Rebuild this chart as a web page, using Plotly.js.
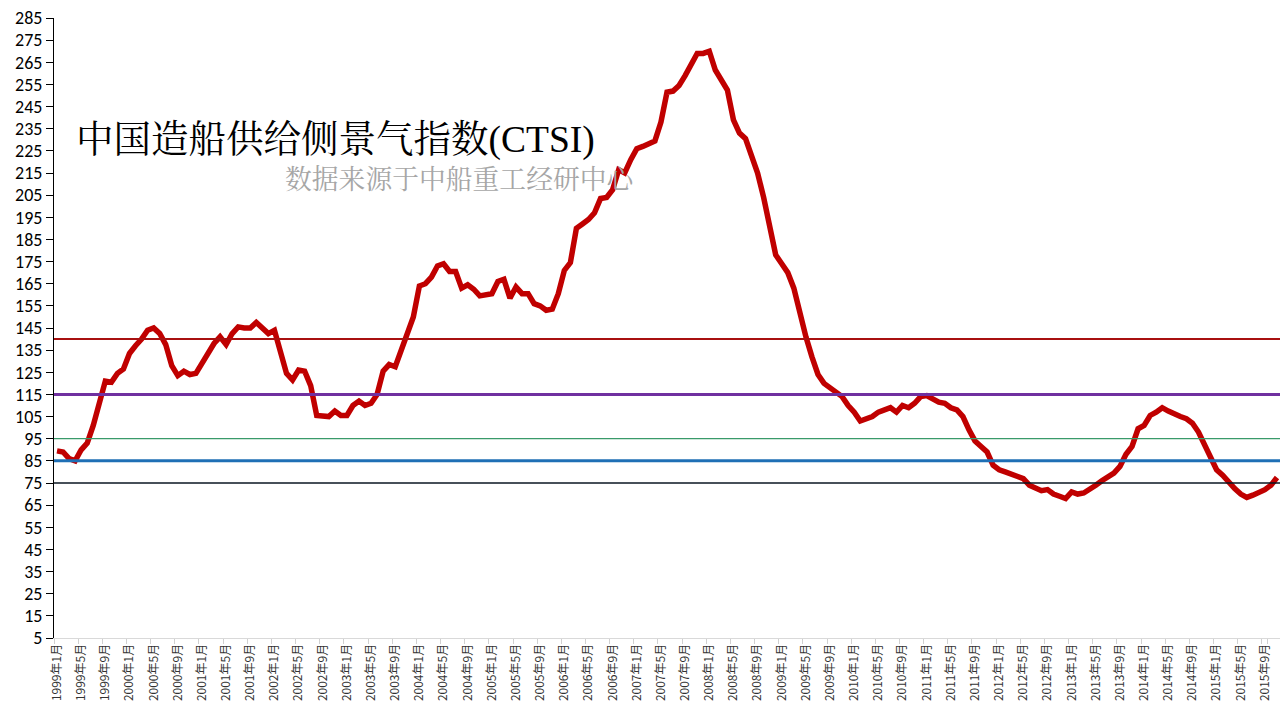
<!DOCTYPE html>
<html>
<head>
<meta charset="utf-8">
<script src="https://cdn.plot.ly/plotly-3.0.1.min.js"></script>
<style>
  html, body { margin: 0; padding: 0; background: #ffffff; }
  #chart { width: 1280px; height: 720px; }
</style>
</head>
<body>
<div id="chart"></div>
<script>
// ---- data ----
const startYear = 1999;
const ctsi = [
  89.5, 89, 86, 85, 90, 93, 101, 112, 121, 120.5, 124.5, 126.5,
  133.5, 137, 140, 144, 145, 142.5, 137.5, 128, 123.5, 125.5, 124, 124.5,
  129, 134, 138, 141, 137.5, 142.5, 145.5, 145, 145, 147.5, 145, 142.5,
  144, 134, 124.5, 121.5, 126, 125.5, 119, 105.5, 105.5, 105, 107.5, 105.5,
  105.5, 110, 112, 110, 111, 115, 125.5, 128.5, 127.5, 135, 141, 150,
  164, 165, 168, 173, 174, 170.5, 170.5, 163, 164.5, 162.5, 159.5, 160,
  160.5, 166, 167, 158.5, 163.5, 160.5, 160.5, 156, 155, 153, 153.5, 160.5,
  171, 174.5, 190, 192, 194, 197, 203.5, 204, 207.5, 216.5, 215, 221,
  226, 227, 228.5, 229.5, 238, 251.5, 252, 254.5, 259, 264.5, 269, 269,
  270, 261.5, 257, 252.5, 239, 233, 230.5, 222, 215, 204, 191, 178,
  174, 170, 163, 151, 141, 132, 124, 120, 118, 116, 114, 110,
  107, 103, 104, 105, 107, 108, 109, 107, 110, 109, 111, 114,
  114.5, 113, 111.5, 111, 109, 108, 105, 99, 94, 91.5, 89, 83,
  81, 80, 79, 77.5, 77, 74, 73, 71.5, 72, 70, 69, 68,
  71, 70, 70.5, 72, 74, 76, 78, 79.5, 82.5, 88, 91.5, 99.5,
  101, 105.5, 107, 109, 107.5, 106, 105, 104, 102, 98, 92, 87,
  81, 78.5, 75, 72.5, 70, 68.5, 69.5, 70.5, 72, 74, 77.5
];
const refLevels = [140, 115, 95, 85, 75];
const refColors = ['#A81010', '#7030A0', '#3A9A6A', '#1F6FB5', '#0A1622'];
const refWidths = [2, 3, 1.3, 3, 1.3];
const yTicks = [];
for (let v = 5; v <= 285; v += 10) yTicks.push(v);

const titleText = '中国造船供给侧景气指数(CTSI)';
const subText = '数据来源于中船重工经研中心';

// month category labels
const months = ctsi.map((_, i) => {
  const y = startYear + Math.floor(i / 12);
  const m = (i % 12) + 1;
  return y + '年' + m + '月';
});
const xTickVals = months.filter((_, i) => i % 4 === 0);

const trace = {
  x: months,
  y: ctsi,
  type: 'scatter',
  mode: 'lines',
  line: { color: '#C00000', width: 5.5 },
  hoverinfo: 'x+y',
  showlegend: false
};

const shapes = refLevels.map((lv, k) => ({
  type: 'line', xref: 'paper', x0: 0, x1: 1, yref: 'y', y0: lv, y1: lv,
  line: { color: refColors[k], width: refWidths[k] }, layer: 'above'
}));

const layout = {
  width: 1280, height: 720,
  margin: { l: 54, r: 0, t: 18, b: 82 },
  paper_bgcolor: '#ffffff', plot_bgcolor: '#ffffff',
  showlegend: false,
  xaxis: {
    type: 'category',
    tickmode: 'array',
    tickvals: xTickVals,
    ticktext: xTickVals,
    tickson: 'boundaries',
    tickangle: -90,
    ticks: 'outside', ticklen: 5, tickcolor: '#D0D0D0',
    showline: true, linecolor: '#D9D9D9', linewidth: 1,
    showgrid: false, zeroline: false,
    tickfont: { family: 'Noto Sans CJK SC, sans-serif', size: 12, color: '#333333' },
    automargin: false,
    range: [-0.5, ctsi.length - 0.5]
  },
  yaxis: {
    range: [5, 285],
    tickmode: 'array', tickvals: yTicks,
    ticks: 'outside', ticklen: 7, tickcolor: '#000000',
    showline: true, linecolor: '#000000', linewidth: 1,
    showgrid: false, zeroline: false,
    tickfont: { family: 'Carlito, Lato, Liberation Sans, sans-serif', size: 18, color: '#000000' },
    automargin: false
  },
  shapes: shapes,
  annotations: [
    {
      xref: 'paper', yref: 'paper', x: 0.0165, y: 0.803,
      xanchor: 'left', yanchor: 'middle', showarrow: false,
      text: titleText,
      font: { family: 'Liberation Serif, Noto Serif CJK SC, Noto Sans CJK SC, serif', size: 37.5, color: '#000000' }
    },
    {
      xref: 'paper', yref: 'paper', x: 0.187, y: 0.742,
      xanchor: 'left', yanchor: 'middle', showarrow: false,
      text: subText,
      font: { family: 'Noto Serif CJK SC, Noto Sans CJK SC, serif', size: 26.8, color: '#A6A6A6' }
    }
  ]
};

Plotly.newPlot('chart', [trace], layout, { displayModeBar: false, staticPlot: true });
</script>
</body>
</html>
